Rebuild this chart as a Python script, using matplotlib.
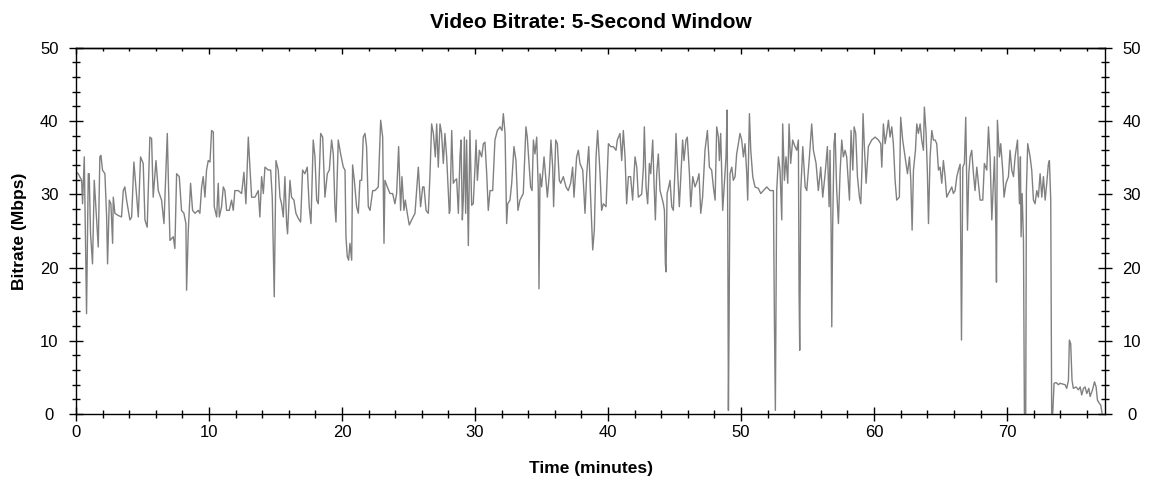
import matplotlib.pyplot as plt
from matplotlib.ticker import MultipleLocator

plt.rcParams['font.family'] = ['Liberation Sans', 'DejaVu Sans']

# time (minutes) and bitrate (Mbps)
minutes = [
    0.00, 0.05, 0.18, 0.43, 0.50, 0.63, 0.80, 0.93, 1.00, 1.10, 1.25, 1.38, 1.50, 1.68, 1.80, 1.88,
    2.00, 2.18, 2.31, 2.38, 2.51, 2.63, 2.76, 2.81, 2.93, 3.18, 3.43, 3.56, 3.68, 3.81, 4.06, 4.19,
    4.36, 4.51, 4.69, 4.86, 5.06, 5.19, 5.36, 5.56, 5.69, 5.81, 6.02, 6.19, 6.44, 6.62, 6.77, 6.87,
    6.97, 7.07, 7.32, 7.44, 7.57, 7.77, 7.94, 8.12, 8.27, 8.32, 8.45, 8.62, 8.77, 8.95, 9.20, 9.32,
    9.45, 9.57, 9.70, 9.82, 9.95, 10.08, 10.20, 10.33, 10.40, 10.58, 10.70, 10.78, 10.95, 11.08,
    11.20, 11.33, 11.53, 11.70, 11.83, 11.95, 12.21, 12.46, 12.63, 12.78, 12.96, 13.08, 13.21,
    13.46, 13.71, 13.83, 13.96, 14.09, 14.21, 14.46, 14.64, 14.76, 14.91, 15.04, 15.21, 15.34,
    15.46, 15.59, 15.71, 15.84, 15.91, 16.09, 16.21, 16.39, 16.54, 16.72, 16.89, 17.04, 17.21,
    17.39, 17.54, 17.67, 17.84, 17.97, 18.10, 18.22, 18.40, 18.55, 18.72, 18.90, 19.05, 19.22,
    19.35, 19.47, 19.55, 19.72, 19.90, 20.10, 20.23, 20.30, 20.40, 20.50, 20.60, 20.73, 20.80,
    20.93, 21.10, 21.23, 21.35, 21.48, 21.60, 21.73, 21.85, 21.98, 22.11, 22.31, 22.48, 22.73,
    22.91, 23.06, 23.16, 23.23, 23.41, 23.61, 23.81, 23.98, 24.11, 24.26, 24.41, 24.51, 24.66,
    24.76, 24.91, 25.06, 25.24, 25.49, 25.74, 25.91, 26.07, 26.17, 26.32, 26.49, 26.62, 26.74,
    26.87, 27.02, 27.12, 27.24, 27.37, 27.49, 27.62, 27.74, 27.87, 28.07, 28.12, 28.25, 28.37,
    28.50, 28.62, 28.75, 28.87, 28.95, 29.05, 29.12, 29.20, 29.30, 29.37, 29.50, 29.62, 29.75,
    29.87, 30.00, 30.08, 30.18, 30.33, 30.50, 30.63, 30.75, 30.88, 31.00, 31.13, 31.33, 31.50,
    31.68, 31.88, 32.03, 32.13, 32.26, 32.38, 32.46, 32.63, 32.76, 32.93, 33.08, 33.23, 33.38,
    33.63, 33.83, 33.93, 34.03, 34.18, 34.29, 34.39, 34.51, 34.64, 34.76, 34.81, 34.89, 35.01,
    35.19, 35.34, 35.44, 35.59, 35.71, 35.84, 35.91, 36.07, 36.19, 36.34, 36.44, 36.64, 36.84,
    37.01, 37.19, 37.34, 37.44, 37.64, 37.77, 37.89, 38.10, 38.27, 38.40, 38.55, 38.70, 38.85,
    38.97, 39.10, 39.22, 39.40, 39.52, 39.65, 39.85, 40.03, 40.20, 40.40, 40.60, 40.70, 40.90,
    41.03, 41.15, 41.28, 41.40, 41.53, 41.70, 41.85, 42.03, 42.16, 42.28, 42.53, 42.66, 42.73,
    42.86, 42.98, 43.11, 43.21, 43.36, 43.46, 43.56, 43.66, 43.78, 43.91, 44.04, 44.16, 44.24,
    44.31, 44.36, 44.44, 44.56, 44.66, 44.79, 44.91, 45.04, 45.11, 45.24, 45.36, 45.46, 45.61,
    45.71, 45.86, 45.96, 46.12, 46.22, 46.37, 46.54, 46.72, 46.84, 46.97, 47.11, 47.29, 47.47,
    47.62, 47.79, 47.92, 48.05, 48.17, 48.30, 48.37, 48.47, 48.62, 48.75, 48.87, 48.95, 49.00,
    49.05, 49.10, 49.17, 49.30, 49.42, 49.55, 49.67, 49.80, 49.92, 50.05, 50.18, 50.30, 50.43,
    50.50, 50.63, 50.73, 50.88, 51.05, 51.30, 51.48, 51.68, 51.93, 52.18, 52.43, 52.51, 52.58,
    52.68, 52.81, 52.93, 53.06, 53.13, 53.26, 53.38, 53.51, 53.61, 53.73, 53.88, 54.06, 54.19,
    54.31, 54.36, 54.41, 54.49, 54.64, 54.82, 54.94, 55.14, 55.31, 55.44, 55.64, 55.81, 55.99,
    56.14, 56.32, 56.49, 56.62, 56.69, 56.77, 56.82, 56.89, 56.99, 57.07, 57.19, 57.32, 57.44,
    57.57, 57.69, 57.82, 57.94, 58.07, 58.15, 58.27, 58.40, 58.50, 58.62, 58.75, 58.90, 59.00,
    59.10, 59.17, 59.27, 59.40, 59.57, 59.82, 60.08, 60.33, 60.50, 60.58, 60.70, 60.83, 60.95,
    61.08, 61.20, 61.33, 61.45, 61.58, 61.70, 61.90, 62.00, 62.15, 62.33, 62.51, 62.66, 62.76,
    62.86, 62.96, 63.11, 63.21, 63.33, 63.46, 63.58, 63.71, 63.78, 63.91, 64.01, 64.09, 64.21,
    64.34, 64.46, 64.59, 64.71, 64.84, 64.96, 65.09, 65.21, 65.34, 65.46, 65.59, 65.71, 65.84,
    65.96, 66.09, 66.22, 66.34, 66.47, 66.57, 66.67, 66.79, 66.89, 67.02, 67.12, 67.22, 67.34,
    67.47, 67.59, 67.72, 67.84, 67.97, 68.17, 68.29, 68.47, 68.60, 68.72, 68.85, 68.92, 69.05,
    69.15, 69.20, 69.27, 69.42, 69.52, 69.67, 69.77, 69.92, 70.10, 70.22, 70.35, 70.48, 70.60,
    70.78, 70.93, 71.00, 71.05, 71.13, 71.23, 71.30, 71.40, 71.45, 71.55, 71.73, 71.85, 71.98,
    72.10, 72.23, 72.35, 72.48, 72.61, 72.73, 72.86, 72.98, 73.10, 73.18, 73.28, 73.35, 73.43,
    73.53, 73.68, 73.86, 73.98, 74.18, 74.36, 74.48, 74.61, 74.68, 74.78, 74.88, 74.98, 75.18,
    75.36, 75.49, 75.61, 75.74, 75.86, 75.99, 76.14, 76.24, 76.42, 76.57, 76.69, 76.79, 76.92,
    77.04, 77.14,
]
mbps = [
    25.1, 33.0, 32.8, 31.9, 28.7, 35.1, 13.7, 32.8, 32.8, 24.6, 20.5, 31.9, 28.3, 22.8, 35.1, 35.3,
    33.3, 32.8, 26.9, 20.5, 29.2, 28.7, 23.3, 29.6, 27.4, 27.1, 26.9, 30.5, 31.0, 29.2, 26.5, 26.9,
    34.4, 31.0, 26.9, 35.1, 34.2, 26.5, 25.5, 37.8, 37.6, 29.6, 34.6, 30.5, 29.2, 26.0, 33.3, 38.3,
    30.5, 23.7, 24.2, 22.6, 32.8, 32.4, 27.8, 27.4, 26.0, 16.9, 25.1, 31.5, 27.8, 27.4, 27.8, 27.4,
    31.0, 32.4, 29.6, 33.3, 34.6, 34.4, 38.7, 38.5, 28.3, 26.9, 31.5, 26.9, 28.3, 31.0,
    30.5, 27.8, 27.8, 29.2, 27.8, 30.5, 30.5, 30.1, 33.0, 28.7, 37.8, 33.7, 29.6,
    29.6, 30.5, 26.9, 32.4, 30.1, 33.7, 33.3, 33.3, 29.6, 16.0, 34.6, 33.3, 29.6,
    28.7, 26.9, 32.4, 26.0, 24.6, 31.9, 29.6, 29.2, 27.4, 26.7, 26.2, 33.3, 32.8,
    33.7, 28.3, 26.0, 37.4, 35.1, 29.2, 28.7, 38.3, 37.8, 29.6, 32.8, 33.3, 37.4,
    35.5, 28.3, 26.2, 37.4, 35.5, 33.7, 33.3, 24.2, 21.5, 21.0, 23.3, 21.0, 34.0,
    31.9, 28.3, 27.4, 31.9, 31.9, 37.8, 38.3, 36.5, 28.3, 27.8, 30.5, 30.5, 31.0,
    40.1, 37.8, 23.3, 31.9, 31.0, 30.1, 30.1, 28.7, 30.1, 36.5, 27.8, 32.4, 27.8,
    29.2, 27.4, 25.8, 26.5, 27.4, 33.7, 28.3, 31.0, 31.0, 27.8, 27.4, 32.8, 39.6,
    38.3, 35.1, 39.6, 33.7, 39.6, 38.3, 34.2, 38.3, 35.1, 27.4, 27.8, 38.7, 31.5,
    31.9, 32.1, 27.4, 35.1, 37.4, 26.5, 29.2, 37.8, 27.4, 37.4, 23.0, 38.7, 28.5,
    28.7, 33.7, 37.4, 31.9, 36.0, 35.1, 36.9, 37.1, 32.8, 27.8, 30.5, 30.5, 37.4,
    38.7, 39.2, 38.7, 41.0, 38.3, 26.0, 28.7, 29.2, 31.5, 36.5, 34.6, 27.8, 29.2,
    30.1, 39.2, 37.8, 35.1, 31.0, 30.5, 37.4, 35.5, 37.8, 30.5, 17.1, 32.8, 31.0,
    35.1, 31.9, 29.6, 32.8, 37.4, 33.7, 28.3, 37.4, 36.9, 31.9, 31.5, 32.4, 31.0,
    30.5, 31.5, 33.7, 29.6, 35.1, 36.0, 34.2, 33.3, 27.4, 32.8, 36.5, 29.2, 22.4,
    25.1, 35.1, 38.7, 32.8, 27.8, 28.7, 28.3, 36.9, 36.5, 36.5, 36.0, 37.4, 38.3,
    34.6, 38.7, 35.1, 28.7, 32.4, 32.4, 29.2, 35.1, 33.7, 29.6, 30.0, 33.7, 39.2,
    31.0, 28.7, 34.2, 32.8, 37.4, 31.5, 26.5, 32.8, 35.5, 30.5, 29.6, 28.7, 27.8,
    20.5, 19.4, 30.1, 31.0, 31.9, 28.3, 27.8, 33.7, 38.3, 32.8, 28.3, 31.9, 37.4,
    34.6, 37.4, 37.8, 32.8, 28.3, 32.4, 31.0, 31.9, 32.8, 27.4, 29.6, 36.0, 38.7,
    33.7, 33.3, 31.0, 29.2, 39.2, 37.8, 34.6, 38.3, 27.8, 31.5, 35.1, 41.5, 26.0,
    0.5, 12.4, 32.8, 33.7, 31.9, 32.4, 35.5, 36.9, 38.3, 37.4, 35.1, 36.9, 32.8,
    29.2, 41.0, 36.0, 32.4, 31.0, 30.8, 30.1, 30.5, 31.0, 30.5, 30.5, 12.4, 0.5,
    30.5, 35.1, 33.3, 26.5, 39.6, 31.9, 35.1, 31.5, 39.6, 34.2, 37.4, 36.5, 36.0,
    37.4, 16.9, 8.7, 30.5, 36.5, 31.0, 30.5, 35.1, 39.6, 36.0, 34.2, 30.5, 33.7,
    29.6, 32.8, 36.5, 28.3, 36.0, 25.1, 11.9, 26.0, 36.9, 38.3, 30.5, 26.0, 32.8,
    37.4, 35.1, 36.0, 35.1, 31.5, 29.2, 38.7, 33.3, 39.2, 38.3, 32.4, 29.6, 28.7,
    34.2, 41.0, 36.5, 31.5, 36.5, 37.4, 37.8, 37.4, 36.9, 33.7, 39.6, 36.9, 38.3,
    40.1, 37.8, 39.2, 36.9, 31.9, 29.2, 29.6, 40.5, 37.4, 35.1, 32.8, 35.1, 31.9,
    25.1, 33.3, 36.0, 39.6, 38.3, 39.6, 37.4, 36.0, 41.9, 38.3, 32.8, 26.0, 35.1,
    38.7, 37.4, 37.4, 36.9, 33.3, 33.7, 31.5, 34.6, 32.4, 29.6, 30.1, 30.5, 31.0,
    30.1, 30.5, 32.4, 33.3, 34.1, 10.1, 33.7, 34.2, 40.5, 25.1, 32.8, 35.1, 36.0,
    32.8, 30.5, 33.7, 31.5, 29.2, 29.2, 34.2, 33.3, 39.2, 35.1, 26.5, 29.6, 35.1,
    26.0, 18.0, 40.1, 35.1, 36.9, 33.3, 29.6, 31.5, 32.4, 36.0, 33.3, 32.4, 35.1,
    37.4, 28.7, 35.1, 24.2, 30.1, 23.7, 0.1, 0.1, 30.5, 36.9, 35.1, 33.3, 29.2,
    28.7, 30.5, 29.6, 32.8, 29.6, 32.4, 29.2, 31.5, 34.1, 34.6, 29.2, 0.1, 0.1,
    4.2, 4.3, 4.0, 4.2, 4.1, 4.0, 3.5, 4.6, 10.1, 9.6, 4.6, 3.5, 3.7,
    3.3, 3.7, 2.6, 3.5, 3.7, 2.8, 3.5, 2.4, 3.3, 4.4, 3.7, 1.9, 1.5,
    1.2, 0.1,
]

fig = plt.figure(figsize=(11.5, 4.82), dpi=100)
ax = fig.add_axes([0.066, 0.141, 0.895, 0.760])

ax.plot(minutes, mbps, color='#808080', lw=1.0)

ax.set_xlim(0, 77.37)
ax.set_ylim(0, 50)
ax.xaxis.set_major_locator(MultipleLocator(10))
ax.xaxis.set_minor_locator(MultipleLocator(2))
ax.yaxis.set_major_locator(MultipleLocator(10))
ax.yaxis.set_minor_locator(MultipleLocator(2))

ax.tick_params(which='both', direction='inout', top=False, right=True,
               labelright=True, labelsize=12, colors='black', width=1)
ax.tick_params(axis='x', which='major', length=9.4, pad=3)
ax.tick_params(axis='y', which='major', length=9.4, pad=14.5)
ax.tick_params(which='minor', length=5.5)
for lab in ax.yaxis.get_majorticklabels():
    lab.set_horizontalalignment('center')

# top edge: ticks pointing inward only, no labels
top = ax.secondary_xaxis('top')
top.xaxis.set_major_locator(MultipleLocator(10))
top.xaxis.set_minor_locator(MultipleLocator(2))
top.tick_params(which='both', direction='in', labeltop=False, width=1)
top.tick_params(which='major', length=4.5)
top.tick_params(which='minor', length=2.5)
top.spines['top'].set_linewidth(1.0)

for s in ax.spines.values():
    s.set_linewidth(1.0)

ax.set_title('Video Bitrate: 5-Second Window', fontsize=15, fontweight='bold', pad=14)
ax.set_xlabel('Time (minutes)', fontsize=12.5, fontweight='bold', labelpad=15)
ax.set_ylabel('Bitrate (Mbps)', fontsize=12.5, fontweight='bold', labelpad=9)

fig.savefig('out.png', dpi=100)
